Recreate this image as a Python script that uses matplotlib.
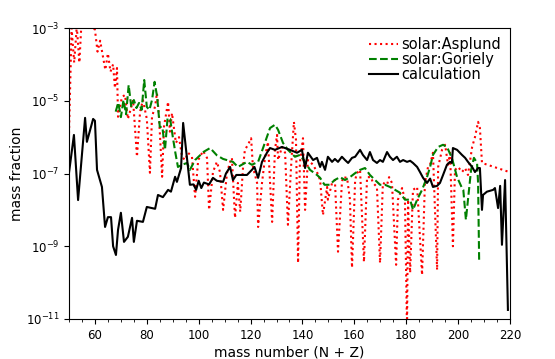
import numpy as np
import matplotlib
matplotlib.use("Agg")
import matplotlib.pyplot as plt
from matplotlib.ticker import FixedLocator, NullLocator, MultipleLocator, LogFormatterMathtext

# ---- data (log10 of mass fraction) ----
asplund_A = [50, 51, 52, 53, 54, 55, 56, 57, 58, 59, 60, 61, 62, 63, 64, 65, 66, 67, 67.7, 68.5, 68.9,
             70.4, 71.6, 72.7, 73.5, 74.7, 76.2, 77.4, 78.5, 80, 81.2, 82, 83.2, 83.9, 84.7, 85.9, 86.6,
             88.2, 88.9, 89.7, 91.2, 92.4, 93.6, 94.7, 95.9, 97.4, 98.6, 99.8, 101.7, 103.2, 104, 105.5,
             107, 108.2, 109.4, 110.9, 112.1, 112.8, 114, 115.1, 116, 117.1, 117.8, 119, 120.2, 120.9,
             122.5, 122.9, 124.4, 125.6, 126.7, 128.3, 129.4, 130.2, 130.6, 132.1, 133.3, 134.4, 135.6,
             136.7, 137.5, 138.3, 139, 140.2, 141, 142.1, 144.1, 145.6, 146.8, 147.9, 149.5, 149.8, 151.4,
             152.5, 153.7, 155.2, 155.6, 157.2, 158.3, 159.1, 160.3, 161, 162.2, 163.7, 164.9, 166.4,
             167.2, 168.7, 169.9, 171, 172.6, 173.4, 174.5, 176.1, 176.8, 178.4, 179.5, 180.3, 180.7,
             181.5, 182.6, 184.2, 186.1, 187.2, 188.4, 189.2, 190.3, 191.9, 192.3, 193.8, 195, 196.1,
             196.9, 198, 198.8, 200, 201.5, 202.7, 203.8, 205.4, 206.5, 207.7, 208.4, 209.2, 232]
asplund_log = [-5.9, -3.0, -3.95, -2.95, -3.95, -2.6, -2.2, -2.6, -2.95, -2.95, -3.05, -3.65, -3.35, -3.75,
               -4.15, -3.7, -4.2, -4.0, -4.65, -4.1, -5.44,
               -4.9, -4.84, -5.5, -5.3, -4.98, -6.54, -5.3, -4.98, -5.5, -6.98, -5.44, -5.15, -4.79, -5.44,
               -7.09, -5.72, -5.03, -5.85, -5.34, -6.16, -6.0, -6.54, -6.63, -6.43, -6.54, -7.64, -6.63,
               -6.38, -6.57, -8.0, -6.96, -6.68, -6.96, -8.0, -6.99, -6.68, -6.57, -8.22, -7.26, -8.05,
               -6.82, -6.35, -6.21, -6.03, -6.82, -7.26, -8.47, -7.26, -6.54, -6.13, -8.33, -6.35, -5.94,
               -6.63, -6.27, -6.43, -8.41, -6.82, -5.58, -6.08, -9.46, -6.71, -6.03, -8.0, -6.63, -6.76,
               -6.96, -7.18, -8.14, -7.37, -7.72, -7.26, -7.18, -9.15, -7.26, -7.1, -7.12, -7.72, -9.59,
               -7.18, -6.99, -6.9, -9.43, -7.1, -7.1, -7.26, -7.37, -9.46, -7.26, -7.31, -7.1, -7.26, -9.51,
               -7.72, -7.4, -7.72, -11.3, -7.72, -9.73, -7.45, -7.37, -9.79, -7.26, -6.82, -6.76, -6.43,
               -9.65, -6.82, -6.35, -6.21, -6.76, -6.43, -9.0, -6.9, -6.82, -6.96, -6.85, -7.04, -6.27,
               -6.0, -5.58, -5.75, -6.71, -7.25]

goriely_A = [68, 69, 70, 71, 72, 73, 74, 75, 76, 77, 78, 79, 80, 81, 82, 83, 84, 85, 86, 87, 88, 89, 90,
             91, 92, 93.6, 95.5, 96.6, 98.6, 100.5, 102, 104.4, 107, 109.4, 113.2, 115.1, 118.6, 120.5,
             122.9, 124.8, 127.5, 129.4, 130.6, 132.5, 134.4, 137.1, 139, 141, 142.9, 145.6, 146.8,
             148.5, 150.5, 152.4, 154.5, 156.4, 158.3, 160.3, 162.2, 164.1, 166, 168, 169.9, 171.8,
             173.7, 175.7, 177.6, 179.5, 181.5, 182.6, 184.2, 186.1, 188, 189.2, 190.3, 192.3, 194.2,
             195.7, 197.6, 199.6, 201.5, 202, 203, 203.8, 205, 206.1, 207.3, 207.7, 208.1]
goriely_log = [-5.3, -5.05, -5.45, -4.98, -5.37, -4.57, -5.17, -4.98, -5.2, -5.06, -5.25, -4.43, -5.17,
               -5.25, -4.98, -4.48, -4.9, -5.72, -5.72, -6.35, -5.47, -5.5, -5.99, -6.43, -6.82, -6.76,
               -6.71, -6.9, -6.63, -6.5, -6.4, -6.3, -6.5, -6.6, -6.68, -6.82, -6.68, -6.76, -6.68, -6.3,
               -5.75, -5.66, -5.8, -6.16, -6.35, -6.54, -6.49, -6.68, -6.9, -7.04, -7.12, -7.31, -7.31,
               -7.18, -7.1, -7.18, -7.1, -6.99, -6.9, -6.85, -7.04, -7.18, -7.31, -7.31, -7.37, -7.45,
               -7.53, -7.72, -7.72, -8.0, -7.72, -7.45, -7.1, -6.82, -6.49, -6.27, -6.21, -6.27, -6.57,
               -7.1, -7.4, -7.45, -8.27, -7.72, -6.9, -6.57, -6.71, -7.26, -9.37]

calc_A = [50, 51.9, 53.5, 56.2, 56.9, 59.3, 60, 60.8, 62.7, 63.9, 65, 66.2, 67, 68.1, 68.9, 70, 71.2,
          72.7, 74.3, 75, 76.2, 78.5, 80, 83.2, 84.3, 86.2, 88.2, 89.3, 90.9, 91.6, 93.2, 94, 96.6, 98,
          99, 100, 101, 102, 104, 105.5, 107, 109.4, 110.5, 112.1, 113.2, 114.5, 115.9, 118.6, 120.5,
          121.5, 122.9, 124.4, 126.3, 127.5, 129.4, 132.1, 135.2, 137.9, 139.8, 141, 142.1, 144.1,
          145.6, 146.8, 147.5, 148.7, 149.8, 151.4, 152.5, 153.7, 155.2, 156.4, 157.6, 159.1, 160.3,
          162.2, 163.3, 164.9, 166, 167.2, 168.7, 169.9, 171, 172.6, 173.7, 174.9, 176.4, 177.6, 178.8,
          180.3, 181.5, 182.6, 184.2, 185.3, 186.5, 188, 189.2, 190.3, 191.9, 193, 194.2, 195.7, 196.9,
          197.6, 198, 199.6, 201.5, 202.7, 203.8, 205.4, 206.5, 207.7, 208.4, 209.2, 209.6, 211.1,
          213.5, 214.2, 215.4, 216.2, 216.9, 218.1, 219.2]
calc_log = [-6.98, -5.94, -7.73, -5.47, -6.13, -5.5, -5.55, -6.9, -7.37, -8.47, -8.2, -8.2, -9.0, -9.24,
            -8.55, -8.08, -8.88, -8.74, -8.22, -8.88, -8.3, -8.33, -7.92, -7.97, -7.59, -7.65, -7.45,
            -7.5, -7.09, -7.23, -6.85, -5.61, -7.31, -7.3, -7.45, -7.2, -7.4, -7.25, -7.3, -7.12, -7.2,
            -7.23, -7.0, -6.82, -7.18, -7.04, -7.04, -7.04, -6.9, -6.82, -7.12, -6.68, -6.43, -6.3,
            -6.35, -6.27, -6.35, -6.43, -6.35, -6.85, -6.43, -6.63, -6.57, -6.82, -6.68, -6.9, -6.54,
            -6.68, -6.6, -6.68, -6.54, -6.63, -6.71, -6.57, -6.54, -6.35, -6.49, -6.63, -6.41, -6.63,
            -6.71, -6.63, -6.68, -6.41, -6.54, -6.63, -6.54, -6.68, -6.63, -6.68, -6.65, -6.71, -6.82,
            -6.96, -7.12, -7.26, -7.14, -7.37, -7.34, -7.26, -7.04, -6.76, -6.68, -6.71, -6.3, -6.35,
            -6.49, -6.57, -6.68, -6.82, -6.96, -6.85, -6.85, -8.0, -7.59, -7.5, -7.45, -7.4, -7.95,
            -7.34, -8.96, -7.18, -10.75]

y_ticks = [1e-11, 1e-9, 1e-7, 1e-5, 1e-3]

# ---- figure ----
fig = plt.figure(figsize=(5.55, 3.59), dpi=100)
ax = fig.add_axes([69 / 555, 1 - 319 / 359, (510 - 69) / 555, (319 - 28) / 359])

ax.plot(asplund_A, 10.0 ** np.array(asplund_log), color="red", linestyle=":", lw=1.5,
        label="solar:Asplund")
ax.plot(goriely_A, 10.0 ** np.array(goriely_log), color="green", linestyle="--", lw=1.5,
        label="solar:Goriely")
ax.plot(calc_A, 10.0 ** np.array(calc_log), color="black", linestyle="-", lw=1.5,
        label="calculation")

ax.set_yscale("log")
ax.set_xlim(50, 220)
ax.set_ylim(1e-11, 1e-3)
ax.yaxis.set_major_locator(FixedLocator(y_ticks))
ax.yaxis.set_major_formatter(LogFormatterMathtext())
ax.yaxis.set_minor_locator(NullLocator())
ax.xaxis.set_major_locator(MultipleLocator(20))
ax.xaxis.set_minor_locator(MultipleLocator(5))
ax.tick_params(axis="both", which="major", labelsize=8.5, length=3.5, direction="out")
ax.tick_params(axis="x", which="minor", length=2, direction="out")

ax.set_xlabel("mass number (N + Z)", fontsize=10, labelpad=3)
ax.set_ylabel("mass fraction", fontsize=10, labelpad=1)

ax.legend(loc="upper right", frameon=False, fontsize=10.5, handlelength=1.95,
          handletextpad=0.25, borderaxespad=0.2, labelspacing=0.0)

fig.savefig("out.png", dpi=100)
